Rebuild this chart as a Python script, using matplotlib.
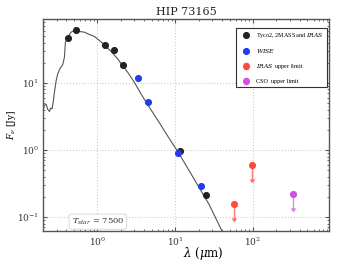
import matplotlib
matplotlib.use("Agg")
import matplotlib.pyplot as plt

# ---- data ----
model_wl = [0.197, 0.207, 0.220, 0.231, 0.243, 0.250, 0.262, 0.273, 0.281, 0.296,
            0.310, 0.333, 0.359, 0.378, 0.389, 0.416, 0.460, 0.507, 0.588, 0.681,
            0.789, 0.916, 1.06, 1.23, 1.50, 1.82, 2.11, 2.45, 2.98, 3.63,
            4.42, 6.24, 8.38, 11.2, 15.1, 20.3, 27.3, 39.7, 57.0]
model_flux = [2.95, 4.61, 4.83, 4.02, 3.76, 4.21, 4.12, 5.48, 7.29, 10.9,
              13.7, 16.6, 18.7, 24.3, 40.6, 48.3, 57.3, 60.8, 58.7, 57.3,
              53.0, 49.4, 43.1, 37.2, 29.5, 23.0, 18.2, 14.5, 10.3, 6.90,
              4.78, 2.57, 1.49, 0.887, 0.494, 0.276, 0.154, 0.0629, 0.0285]

tyc_wl = [0.42, 0.53, 1.24, 1.65, 2.16, 11.5, 24.8]
tyc_flux = [47.3, 62.2, 36.7, 31.3, 18.7, 0.98, 0.211]

wise_wl = [3.32, 4.5, 11.0, 21.4]
wise_flux = [11.8, 5.24, 0.918, 0.292]

iras_ul_wl = [57.5, 96.0]
iras_ul_flux = [0.157, 0.607]

cso_ul_wl = [330.0]
cso_ul_flux = [0.222]

x_ticks = [1, 10, 100]
y_ticks = [0.1, 1, 10]

# ---- style ----
plt.rcParams['font.family'] = ['DejaVu Serif']
plt.rcParams['mathtext.fontset'] = 'dejavuserif'

fig = plt.figure(figsize=(3.49, 2.64), dpi=100)
ax = fig.add_axes([0.123, 0.125, 0.820, 0.803])

ax.plot(model_wl, model_flux, color='#555555', lw=0.8, zorder=2)

ms = 4.1
ax.errorbar(tyc_wl, tyc_flux, fmt='o', color='#222222', ms=ms,
            label='Tyco2, 2MASS and $\\it{IRAS}$', zorder=3)
ax.errorbar(wise_wl, wise_flux, fmt='o', color='#1f3cf0', ms=ms,
            label='$\\it{WISE}$', zorder=3)
ax.errorbar(iras_ul_wl, iras_ul_flux,
            yerr=[f * 0.39 for f in iras_ul_flux], uplims=True,
            fmt='o', color='#ff4a3d', ecolor='#ff7a70', ms=ms, elinewidth=1.0,
            capsize=1.5, label='$\\it{IRAS}$  upper limit', zorder=3)
ax.errorbar(cso_ul_wl, cso_ul_flux,
            yerr=[f * 0.39 for f in cso_ul_flux], uplims=True,
            fmt='o', color='#d050e0', ecolor='#e08cef', ms=ms, elinewidth=1.0,
            capsize=1.5, label='CSO  upper limit', zorder=3)

ax.set_xscale('log')
ax.set_yscale('log')
ax.set_xlim(0.2, 950)
ax.set_ylim(0.062, 90)
ax.set_xticks(x_ticks)
ax.set_yticks(y_ticks)

ax.grid(True, which='major', linestyle=':', color='#cccccc', lw=0.8)
ax.tick_params(which='both', direction='in', top=True, right=True,
               colors='#555555', labelcolor='#333333', labelsize=6.5, pad=3)
ax.tick_params(which='major', length=3)
ax.tick_params(which='minor', length=1.5)
for s in ax.spines.values():
    s.set_color('#555555')
    s.set_linewidth(1.0)

ax.set_title('HIP 73165', fontsize=8, color='#222222', pad=3)
ax.set_xlabel('$\\lambda$ ($\\mu$m)', fontsize=8.5)
ax.xaxis.set_label_coords(0.56, -0.066)
ax.set_ylabel('$F_{\\nu}$ [Jy]', fontsize=6.5)
ax.yaxis.set_label_coords(-0.087, 0.5)

leg = ax.legend(loc='upper right', bbox_to_anchor=(1 - 2 / 286, 1 - 9 / 212),
                prop={'family': 'Liberation Serif', 'size': 4.4},
                fancybox=False, edgecolor='#333333', framealpha=1,
                labelspacing=1.15, handletextpad=0.5, borderpad=0.55,
                borderaxespad=0.0, handlelength=2.3)
leg.get_frame().set_linewidth(0.8)

ax.text(0.1, 0.035, '$T_{star}$ = 7500', transform=ax.transAxes, fontsize=6.0,
        color='#333333',
        bbox=dict(boxstyle='round,pad=0.3', fc='white', ec='#dddddd', lw=0.8))

fig.savefig('out.png', dpi=100)
